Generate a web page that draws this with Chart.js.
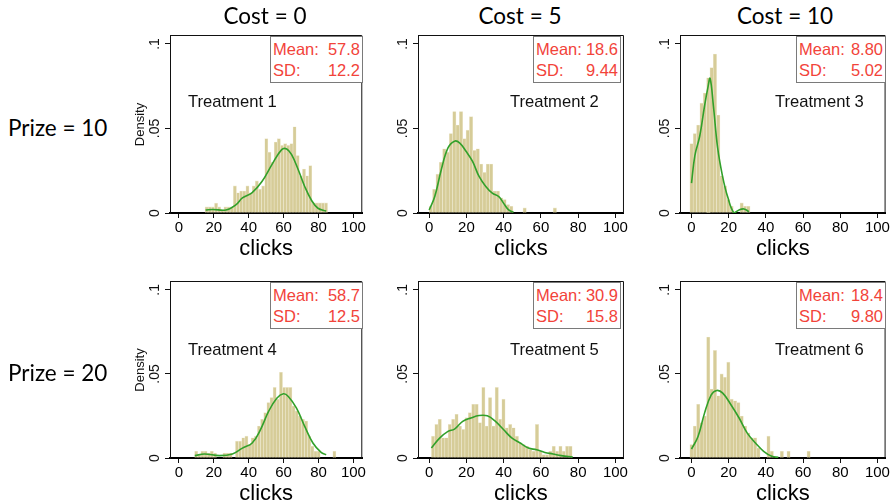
<!DOCTYPE html>
<html>
<head>
<meta charset="utf-8">
<script src="https://cdn.jsdelivr.net/npm/chart.js@4.4.1/dist/chart.umd.min.js"></script>
<style>
body { margin:0; width:896px; height:503px; background:#fff; position:relative; overflow:hidden; font-family:"Liberation Sans", Arial, sans-serif; }
canvas { position:absolute; }
.hdr { position:absolute; font-family:Lato, "Open Sans", sans-serif; font-size:22.5px; color:#000; white-space:nowrap; }
.stat { position:absolute; box-sizing:border-box; border:1.5px solid #7a7a7a; background:#fff; color:#f2433a; font-size:16.5px; line-height:21px; padding:2px 2px 0 2px; }
.stat div { display:flex; justify-content:space-between; }
.trt { position:absolute; font-size:16.6px; line-height:20px; color:#111; white-space:nowrap; }
</style>
</head>
<body>
<script>
// column / row headings and panel texts
const costLabels = ['Cost = 0', 'Cost = 5', 'Cost = 10'];
const prizeLabels = ['Prize = 10', 'Prize = 20'];
const treatments = ['Treatment 1', 'Treatment 2', 'Treatment 3', 'Treatment 4', 'Treatment 5', 'Treatment 6'];
const means = ['57.8', '18.6', '8.80', '58.7', '30.9', '18.4'];
const sds = ['12.2', '9.44', '5.02', '12.5', '15.8', '9.80'];

const xTicks = [0, 20, 40, 60, 80, 100];
const yTicks = [0, 0.05, 0.1];
const yTickLabels = ['0', '.05', '.1'];

// histogram bins (density), all with the same width, starting at binStarts[i]
const binWidth = 1.8;
const binStarts = [15, 0, -0.9, 9, 1.2, -0.9];
const hist1 = [.0036, .0036, .0036, .0058, .0036, .002, .0036, .0036, .0036, .016, .012, .013, .013, .016, .012, .016, .019, .014, .016,
  .044, .036, .030, .042, .044, .040, .041, .040, .041, .051, .034, .022, .026, .022, .028, .006, .006, .006, .006, .006];
const hist2 = [.004, .014, .023, .030, .038, .036, .047, .060, .052, .060, .044, .049, .057, .037, .038, .029, .024, .029, .029,
  .013, .013, .009, .008, .005, .004, 0, 0, 0, .003, 0, 0, 0, 0, 0, 0, 0, 0, .003];
const hist3 = [.041, .047, .052, .065, .071, .080, .086, .094, .058, .022, .016, .008, .004, 0, 0, .006, .004, .004];
const hist4 = [.004, .002, .004, .004, .003, .004, .003, 0, 0, .003, .003, .003, 0, .010, .010, .012, .013, .008, .012, .013,
  .019, .023, .027, .033, .036, .042, .035, .051, .042, .042, .042, .031, .028, .025, .023, .022, .013, .007, .004, .004,
  0, 0, 0, 0, .004];
const hist5 = [.013, .020, .023, .012, .012, .020, .023, .026, .019, .017, .024, .027, .032, .032, .021, .042, .019, .036, .019,
  .042, .023, .035, .018, .020, .018, .013, .009, .008, .007, .005, .004, .020, .004, .002, .002, .004, .007, .004, .007,
  .004, .007, .007];
const hist6 = [.008, .019, .032, .021, .025, .072, .041, .064, .037, .050, .048, .057, .035, .034, .033, .025, .019, .015, .012,
  .012, .006, 0, 0, .013, .004, 0, 0, .004, 0, .004, 0, 0, 0, 0, 0, .004];

// kernel density curves
const kdX1 = [15.3, 19.4, 27.0, 32.6, 36.4, 42.0, 47.6, 53.3, 58.9, 61.8, 64.6, 68.4, 72.1, 75.9, 79.7, 84.4];
const kdY1 = [.0018, .0021, .0018, .0048, .0089, .0121, .0186, .0286, .0375, .0379, .0345, .0256, .0157, .0077, .0028, .0012];
const kdX2 = [0, 3.0, 6.5, 10.1, 13.6, 16.3, 19.8, 23.3, 26.8, 30.4, 33.9, 37.4, 40.0, 42.7, 45.3];
const kdY2 = [.0018, .0097, .0256, .0385, .0425, .0415, .0365, .0305, .0216, .0157, .0117, .0097, .0057, .0018, .0004];
const kdX3 = [0, 1.8, 4.4, 7.0, 8.8, 10.0, 11.8, 14.0, 16.7, 19.4, 22.9, 25.6, 28.2, 30.9];
const kdY3 = [.0177, .034, .0454, .0633, .0742, .0796, .063, .039, .0217, .0097, 0, .0018, .0024, .0008];
const kdX4 = [9.1, 14.7, 23.2, 30.7, 36.4, 42.0, 46.7, 51.4, 56.1, 59.9, 62.7, 67.4, 72.1, 76.8, 81.5, 84.4];
const kdY4 = [.0014, .0024, .0014, .0024, .0059, .0089, .0168, .0277, .0356, .0382, .0366, .0297, .0188, .0089, .0033, .0019];
const kdX5 = [1.2, 5.6, 10.1, 13.6, 18.0, 22.4, 26.8, 31.2, 35.6, 40.0, 44.5, 48.9, 53.3, 57.7, 62.1, 66.5, 70.9, 77.1];
const kdY5 = [.0059, .0118, .0158, .0172, .0218, .0238, .0253, .0251, .0218, .0168, .0118, .0089, .0059, .0049, .0033, .0024, .0014, .0006];
const kdX6 = [0, 3.5, 7.0, 10.6, 13.6, 16.8, 21.2, 25.6, 30.0, 34.4, 38.8, 43.2, 46.7];
const kdY6 = [.0053, .0128, .0267, .0376, .0402, .0386, .0317, .0238, .0148, .0089, .0040, .0010, .0004];

const hists = [hist1, hist2, hist3, hist4, hist5, hist6];
const kdXs = [kdX1, kdX2, kdX3, kdX4, kdX5, kdX6];
const kdYs = [kdY1, kdY2, kdY3, kdY4, kdY5, kdY6];

// layout (pixels)
const colFrames = [[170, 365], [418, 627], [680, 889]];
const colRange = [[-5.1, 105.1], [-6.0, 104.6], [-6.2, 104.4]];
const rowFrames = [[35, 213], [281, 458]];
const yMax = 0.1053;
const axisW = 60, axisH = 50, padTop = 2, padRight = 2;

const framePlugin = {
  id: 'frame',
  afterDraw(chart, args, opts) {
    const ctx = chart.ctx;
    const a = chart.chartArea;
    const ys = chart.scales.y;
    ctx.save();
    ctx.strokeStyle = '#111';
    ctx.lineWidth = 1;
    ctx.beginPath();
    ctx.moveTo(a.left, a.top + 0.5);
    ctx.lineTo(a.right - 0.5, a.top + 0.5);
    ctx.lineTo(a.right - 0.5, a.bottom);
    ctx.stroke();
    ctx.fillStyle = '#111';
    ctx.font = '14px "Liberation Sans", Arial, sans-serif';
    ctx.textAlign = 'center';
    ctx.textBaseline = 'middle';
    yTicks.forEach((v, k) => {
      ctx.save();
      ctx.translate(a.left - 15, ys.getPixelForValue(v));
      ctx.rotate(-Math.PI / 2);
      ctx.fillText(yTickLabels[k], 0, 0);
      ctx.restore();
    });
    if (opts.density) {
      ctx.font = '13px "Liberation Sans", Arial, sans-serif';
      ctx.save();
      ctx.translate(a.left - 30, ys.getPixelForValue(0.05) - 4);
      ctx.rotate(-Math.PI / 2);
      ctx.fillText('Density', 0, 0);
      ctx.restore();
    }
    ctx.restore();
  }
};

function addText(cls, text, left, top) {
  const d = document.createElement('div');
  d.className = cls;
  d.textContent = text;
  d.style.left = left + 'px';
  d.style.top = top + 'px';
  document.body.appendChild(d);
  return d;
}

function makePanel(i) {
  const row = Math.floor(i / 3), col = i % 3;
  const [fl, fr] = colFrames[col];
  const [ft, fb] = rowFrames[row];
  const canvas = document.createElement('canvas');
  const w = fr - fl + axisW + padRight;
  const h = fb - ft + axisH + padTop;
  canvas.width = w;
  canvas.height = h;
  canvas.style.left = (fl - axisW) + 'px';
  canvas.style.top = (ft - padTop) + 'px';
  document.body.appendChild(canvas);

  const bars = hists[i].map((v, k) => ({ x: binStarts[i] + binWidth * (k + 0.5), y: v }));
  const curve = kdXs[i].map((x, k) => ({ x: x, y: kdYs[i][k] }));

  new Chart(canvas, {
    data: {
      datasets: [
        { type: 'line', data: curve, borderColor: '#31a02a', borderWidth: 1.6, pointRadius: 0, tension: 0.4, order: 0 },
        { type: 'bar', data: bars, backgroundColor: '#d6cc98', borderColor: '#eee9d0', borderWidth: 0.6,
          barPercentage: 1, categoryPercentage: 1, grouped: false, order: 1 }
      ]
    },
    options: {
      responsive: false,
      animation: false,
      layout: { padding: { top: padTop, right: padRight, left: 0, bottom: 0 } },
      plugins: { legend: { display: false }, tooltip: { enabled: false }, frame: { density: col === 0 } },
      scales: {
        x: {
          type: 'linear', min: colRange[col][0], max: colRange[col][1], offset: false,
          afterBuildTicks: s => { s.ticks = xTicks.map(v => ({ value: v })); },
          afterFit: s => { s.height = axisH; },
          grid: { offset: false, drawOnChartArea: false, drawTicks: true, tickLength: 5, color: '#111', tickWidth: 1 },
          border: { display: true, color: '#000', width: 2 },
          ticks: { font: { size: 15, family: '"Liberation Sans", Arial, sans-serif' }, color: '#000', padding: 1, maxRotation: 0 },
          title: { display: true, text: 'clicks', font: { size: 22, family: '"Liberation Sans", Arial, sans-serif' }, color: '#000', padding: { top: 0, bottom: 1 } }
        },
        y: {
          type: 'linear', min: 0, max: yMax,
          afterBuildTicks: s => { s.ticks = yTicks.map(v => ({ value: v })); },
          afterFit: s => { s.width = axisW; },
          grid: { drawOnChartArea: false, drawTicks: true, tickLength: 5, color: '#111' },
          border: { display: true, color: '#111', width: 1 },
          ticks: { display: false }
        }
      }
    },
    plugins: [framePlugin]
  });

  // Mean / SD box and treatment label
  const box = document.createElement('div');
  box.className = 'stat';
  const boxLeft = [270, 533, 796][col];
  const boxRight = [363, 621, 886][col];
  box.style.left = boxLeft + 'px';
  box.style.top = (ft + 0.5) + 'px';
  box.style.width = (boxRight - boxLeft) + 'px';
  box.style.height = '47px';
  const l1 = document.createElement('div');
  l1.innerHTML = '<span>Mean:</span><span>' + means[i] + '</span>';
  const l2 = document.createElement('div');
  l2.innerHTML = '<span>SD:</span><span>' + sds[i] + '</span>';
  box.appendChild(l1);
  box.appendChild(l2);
  document.body.appendChild(box);

  const trtLeft = [188, 510, 775][col];
  const trtMid = [102, 350][row];
  addText('trt', treatments[i], trtLeft, trtMid - 10);
}

for (let i = 0; i < 6; i++) makePanel(i);

// column and row headings
const costCenters = [265, 520, 785];
costLabels.forEach((t, k) => {
  const d = addText('hdr', t, 0, 2);
  d.style.left = (costCenters[k] - d.offsetWidth / 2) + 'px';
});
const prizeMids = [127, 372];
prizeLabels.forEach((t, k) => {
  const d = addText('hdr', t, 8, 0);
  d.style.top = (prizeMids[k] - d.offsetHeight / 2) + 'px';
});
</script>
</body>
</html>
